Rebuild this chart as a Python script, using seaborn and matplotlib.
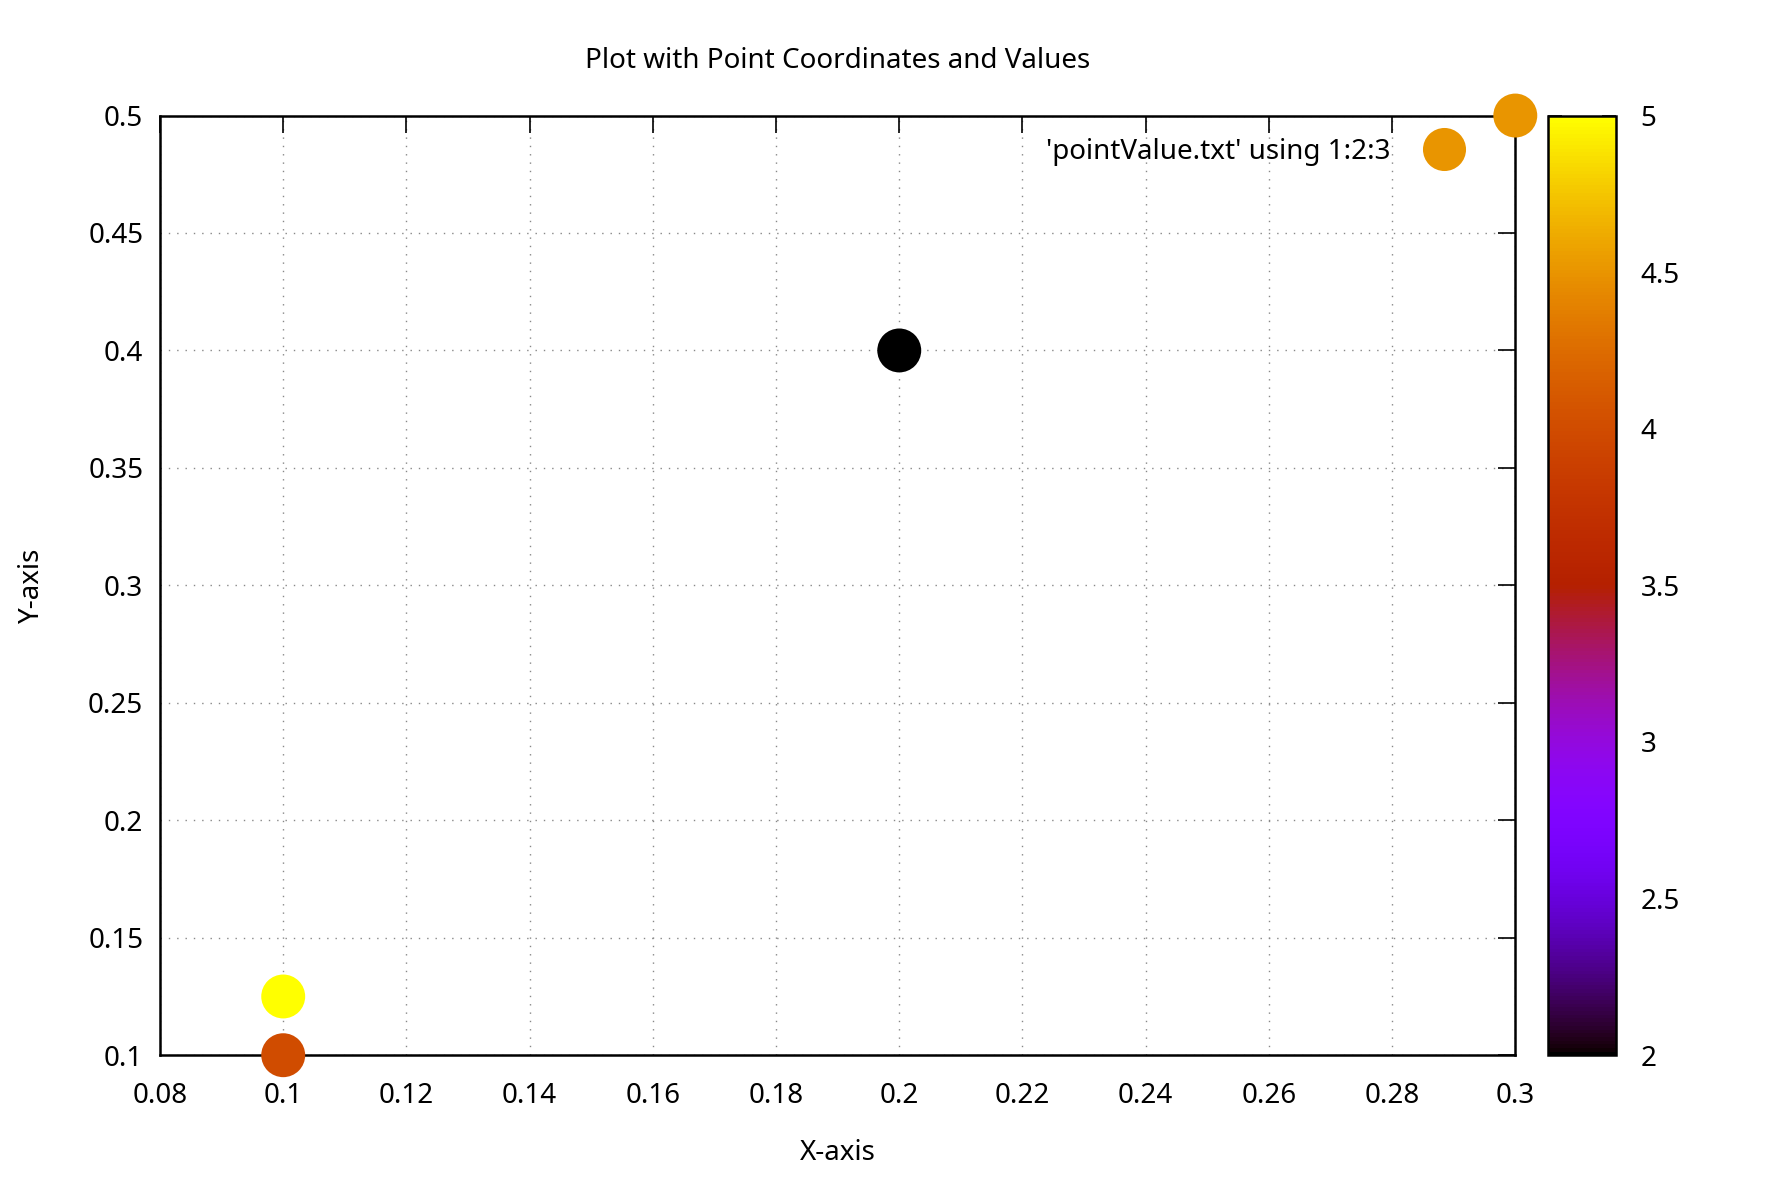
import numpy as np
import pandas as pd
import matplotlib
matplotlib.use("Agg")
import matplotlib.pyplot as plt
from matplotlib.colors import ListedColormap, Normalize
from matplotlib.lines import Line2D
import seaborn as sns

# dados (x, y, valor)
x_vals = [0.1, 0.1, 0.2, 0.3]
y_vals = [0.1, 0.125, 0.4, 0.5]
point_values = [4.0, 5.0, 2.0, 4.5]
legend_label = "'pointValue.txt' using 1:2:3"
x_ticks = [0.08, 0.1, 0.12, 0.14, 0.16, 0.18, 0.2, 0.22, 0.24, 0.26, 0.28, 0.3]
y_ticks = [0.1, 0.15, 0.2, 0.25, 0.3, 0.35, 0.4, 0.45, 0.5]
cb_ticks = [2, 2.5, 3, 3.5, 4, 4.5, 5]

df = pd.DataFrame({"x": x_vals, "y": y_vals, "v": point_values})

# paleta padrao do gnuplot (rgbformulae 7,5,15)
t = np.linspace(0, 1, 256)
rgb = np.stack([np.sqrt(t), t ** 3, np.clip(np.sin(2 * np.pi * t), 0, 1)], axis=1)
gp_cmap = ListedColormap(rgb)
norm = Normalize(vmin=2, vmax=5)

sns.set_theme(style="white")
plt.rcParams["font.family"] = ["Noto Sans", "DejaVu Sans"]
plt.rcParams["font.size"] = 20
plt.rcParams["text.color"] = "black"
plt.rcParams["axes.labelcolor"] = "black"

fig = plt.figure(figsize=(17.7, 11.79), dpi=100)
ax = fig.add_axes([0.0904, 0.105, 0.7657, 0.797])
cax = fig.add_axes([0.8748, 0.105, 0.038, 0.797])

sns.scatterplot(data=df, x="x", y="y", hue="v", palette=gp_cmap, hue_norm=norm,
                s=1000, linewidth=0, legend=False, ax=ax, clip_on=False, zorder=5)

ax.set_xlim(0.08, 0.3)
ax.set_ylim(0.1, 0.5)
ax.set_xticks(x_ticks)
ax.set_xticklabels([f"{v:g}" for v in x_ticks])
ax.set_yticks(y_ticks)
ax.set_yticklabels([f"{v:g}" for v in y_ticks])
ax.tick_params(direction="in", length=12, width=1.2, top=True, right=True,
               labelsize=20, pad=12, colors="black")
ax.tick_params(axis="x", pad=19)
for sp in ax.spines.values():
    sp.set_visible(True)
    sp.set_color("black")
    sp.set_linewidth(1.8)
ax.grid(True, linestyle=(0, (1, 5)), color="#888888", linewidth=1.0)

ax.set_title("Plot with Point Coordinates and Values", fontsize=20, pad=34, color="black")
ax.set_xlabel("X-axis", fontsize=20, labelpad=21)
ax.set_ylabel("Y-axis", fontsize=20, labelpad=30)

handle = Line2D([], [], marker="o", linestyle="none", markersize=31,
                markerfacecolor=gp_cmap(norm(4.5)), markeredgewidth=0)
leg = ax.legend([handle], [legend_label], loc="upper right", frameon=False,
                markerfirst=False, fontsize=20, bbox_to_anchor=(0.98, 0.994),
                handletextpad=0.9, borderaxespad=0.2)

sm = plt.cm.ScalarMappable(cmap=gp_cmap, norm=norm)
cb = fig.colorbar(sm, cax=cax, ticks=cb_ticks)
cb.ax.set_yticklabels([f"{v:g}" for v in cb_ticks])
cb.ax.tick_params(direction="in", length=10, width=1.2, left=True, right=True,
                  labelsize=20, pad=18, colors="black")
cb.outline.set_linewidth(1.8)
cb.outline.set_edgecolor("black")

plt.savefig("out.png", dpi=100)
plt.close()
